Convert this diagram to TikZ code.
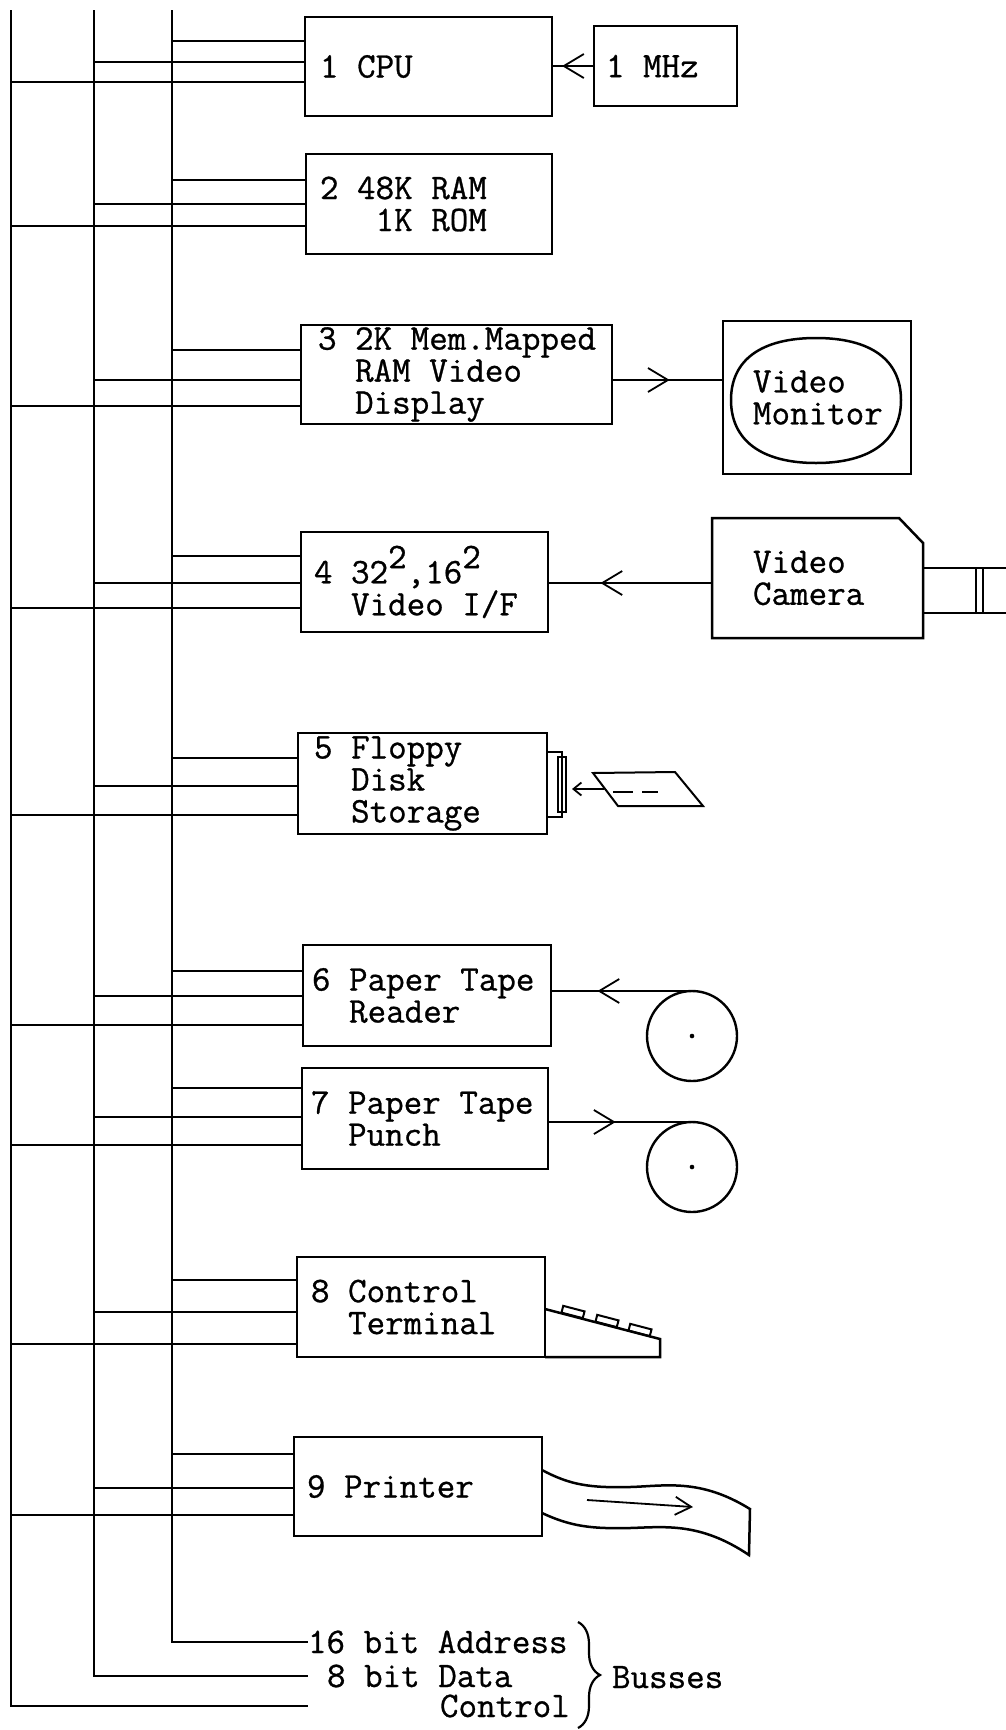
\documentclass[tikz,border=0pt]{standalone}
\usepackage{fontspec}
\usetikzlibrary{arrows.meta,decorations.markings,decorations.pathreplacing}

% typewriter lettering used throughout, slightly heavier than the plain face
\newfontfamily\plotter{Latin Modern Mono}[FakeBold=0.8]
\newcommand\boxfont{\fontsize{36}{32}\selectfont\plotter\hyphenpenalty=10000\exhyphenpenalty=10000}
% one fixed character cell of blank space
\newcommand\gap{\leavevmode\hphantom{0}}

\tikzset{
  wire/.style={line width=1.8pt},
  bus/.style={line width=2.4pt},
  outline/.style={line width=2.5pt, line join=miter},
  unit/.style={draw, line width=2.6pt, align=left, font=\boxfont,
    inner ysep=0pt, outer sep=0pt, anchor=north west},
  shell/.style={unit, draw=none},
  reel/.style={circle, draw, line width=2.4pt, minimum size=90pt, inner sep=0pt, outer sep=0pt},
  slotbox/.style={draw, line width=2pt, inner sep=0pt, outer sep=0pt, anchor=north west},
  keycap/.style={draw, line width=2pt, inner sep=0pt, outer sep=0pt, minimum width=22pt, minimum height=7pt},
  buslbl/.style={font=\boxfont, inner sep=0pt, outer sep=0pt, anchor=west, text height=22pt, text depth=0pt},
  flowmark/.style={postaction={decorate}, decoration={markings,
    mark=at position #1 with {\arrow{Straight Barb[length=20pt,width=24pt,line width=1.8pt]}}}},
}

% \devbox[style]{name}{left}{top}{right}{bottom}{inset}{text}
\newcommand\devbox[8][unit]{%
  \pgfmathsetmacro\dvw{#5-#3}%
  \pgfmathsetmacro\dvh{#6-#4}%
  \pgfmathsetmacro\dvt{#5-#3-2*#7}%
  \node[#1, minimum width=\dvw pt, minimum height=\dvh pt, text width=\dvt pt, inner xsep=#7pt] (#2) at (#3,#4) {#8};}

% three bus taps (address, data, control) into the left side of a unit
\newcommand\busstubs[4]{%
  \draw[wire] (adrTop |- 0,#2) -- (#1.west |- 0,#2);
  \draw[wire] (datTop |- 0,#3) -- (#1.west |- 0,#3);
  \draw[wire] (ctlTop |- 0,#4) -- (#1.west |- 0,#4);}

\begin{document}
\begin{tikzpicture}[x=1pt,y=-1pt]
\useasboundingbox (0,0) rectangle (1005,1730);

% ---- units ----
\devbox{cpu}{305}{17}{552}{116}{15}{1\gap CPU}
\devbox{clk}{594}{26}{737}{106}{12}{1\gap MHz}
\devbox{mem}{306}{154}{552}{254}{14}{2\gap 48K\gap RAM\\\gap\gap\gap 1K\gap ROM}
\devbox{vdu}{301}{325}{612}{424}{17}{3\gap 2K\gap Mem.Mapped\\\gap\gap RAM\gap Video\\\gap\gap Display}
\devbox{mon}{723}{321}{911}{474}{30}{Video\\Monitor}
\devbox{vif}{301}{532}{548}{632}{13}{4\gap 32\raisebox{0.42em}{2},16\raisebox{0.42em}{2}\\\gap\gap Video\gap I/F}
\devbox[shell]{cam}{712}{518}{923}{638}{41}{Video\\Camera}
\devbox{fdd}{298}{733}{547}{834}{16}{5\gap Floppy\\\gap\gap Disk\\\gap\gap Storage}
\devbox{ptr}{303}{945}{551}{1046}{9}{6\gap Paper\gap Tape\\\gap\gap Reader}
\devbox{ptp}{302}{1068}{548}{1169}{9}{7\gap Paper\gap Tape\\\gap\gap Punch}
\devbox{tty}{297}{1257}{545}{1357}{14}{8\gap Control\\\gap\gap Terminal}
\devbox{prn}{294}{1437}{542}{1536}{13}{9\gap Printer}

% ---- busses ----
\coordinate (ctlTop) at (11,10);
\coordinate (datTop) at (94,10);
\coordinate (adrTop) at (172,10);
\node[buslbl] (adrlbl) at (308,1642) {16\gap bit\gap Address};
\node[buslbl] (datlbl) at (327,1676) {8\gap bit\gap Data};
\node[buslbl] (ctllbl) at (440,1706) {Control};
\draw[bus] (adrTop) -- (adrTop |- adrlbl.west) -- (adrlbl.west);
\draw[bus] (datTop) -- (datTop |- datlbl.west) -- (adrlbl.west |- datlbl.west);
\draw[bus] (ctlTop) -- (ctlTop |- ctllbl.west) -- (adrlbl.west |- ctllbl.west);
\coordinate (brT) at (578,1622);
\coordinate (brB) at (578,1728);
\draw[line width=2.2pt, decorate, decoration={brace, amplitude=22pt}] (brT) -- (brB);
\node[buslbl] (busses) at (612,1677) {Busses};

\busstubs{cpu}{41}{62}{82}
\busstubs{mem}{180}{204}{226}
\busstubs{vdu}{350}{380}{406}
\busstubs{vif}{556}{583}{608}
\busstubs{fdd}{758}{786}{815}
\busstubs{ptr}{971}{996}{1025}
\busstubs{ptp}{1088}{1117}{1145}
\busstubs{tty}{1280}{1312}{1344}
\busstubs{prn}{1454}{1488}{1515}

% ---- clock ----
\draw[wire, flowmark=0.76] (clk.west) -- (cpu.east |- clk.west);

% ---- video monitor ----
\coordinate (scr) at (816,400);
\draw[outline] ([shift={(-85,0)}]scr) .. controls +(0,-40) and +(-55,0) .. ([shift={(0,-62)}]scr)
  .. controls +(55,0) and +(0,-40) .. ([shift={(85,0)}]scr)
  .. controls +(0,40) and +(55,0) .. ([shift={(0,63)}]scr)
  .. controls +(-55,0) and +(0,40) .. ([shift={(-85,0)}]scr) -- cycle;
\draw[wire, flowmark=0.52] (vdu.east |- 0,380) -- (mon.west |- 0,380);

% ---- video camera ----
\draw[outline] (cam.north west) -- ([shift={(-24,0)}]cam.north east) -- ([shift={(0,25)}]cam.north east)
  -- (cam.south east) -- (cam.south west) -- cycle;
\node[slotbox, minimum width=100pt, minimum height=45pt, line width=2.5pt] (lens) at (923,568) {};
\draw[outline] ([shift={(53,0)}]lens.north west) -- ([shift={(53,0)}]lens.south west);
\draw[outline] ([shift={(60,0)}]lens.north west) -- ([shift={(60,0)}]lens.south west);
\draw[wire, flowmark=0.68] (cam.west |- 0,583) -- (vif.east |- 0,583);

% ---- floppy disk ----
\node[slotbox, minimum width=15pt, minimum height=65pt] (slotout) at (547,752) {};
\node[slotbox, minimum width=8pt, minimum height=55pt] (slot) at (558,757) {};
\coordinate (d1) at (593,773);
\coordinate (d2) at (675,772);
\coordinate (d3) at (703,806);
\coordinate (d4) at (618,806);
\draw[wire, line width=2pt] (d1) -- (d2) -- (d3) -- (d4) -- cycle;
\draw[wire] (613,792) -- (633,792) (642,792) -- (658,792);
\coordinate (diskin) at (604,789);
\draw[wire, -{Straight Barb[length=8pt,width=13pt,line width=1.8pt]}, shorten >=6pt] (diskin) -- (slot.east |- diskin);

% ---- paper tape reels ----
\node[reel] (reel1) at (692,1036) {};
\node[reel] (reel2) at (692,1167) {};
\fill (reel1.center) circle (2.3);
\fill (reel2.center) circle (2.3);
\draw[wire, line width=2.2pt, flowmark=0.67] (reel1.north) -- (ptr.east |- reel1.north);
\draw[wire, line width=2.2pt, flowmark=0.47] (ptp.east |- reel2.north) -- (reel2.north);

% ---- keyboard ----
\coordinate (kb1) at (660,1339);
\coordinate (kb2) at (660,1357);
\draw[outline] ([shift={(0,-48)}]tty.south east) -- (kb1) -- (kb2) -- (tty.south east);
\node[keycap, rotate=-14.6] (key1) at (573,1312) {};
\node[keycap, rotate=-14.6] (key2) at (607,1321) {};
\node[keycap, rotate=-14.6] (key3) at (640,1330) {};

% ---- printer paper ----
\coordinate (pp1) at (750,1509);
\coordinate (pp2) at (749,1555);
\draw[outline] (prn.east |- 0,1470) .. controls (570,1485) and (590,1488) .. (630,1487)
  .. controls (665,1486) and (700,1478) .. (pp1) -- (pp2)
  .. controls (700,1522) and (665,1527) .. (630,1528)
  .. controls (590,1529) and (570,1526) .. (prn.east |- 0,1513);
\coordinate (pa1) at (587,1500);
\coordinate (pa2) at (693,1507);
\draw[wire, -{Straight Barb[length=16pt,width=18pt,line width=1.8pt]}] (pa1) -- (pa2);
\end{tikzpicture}
\end{document}
